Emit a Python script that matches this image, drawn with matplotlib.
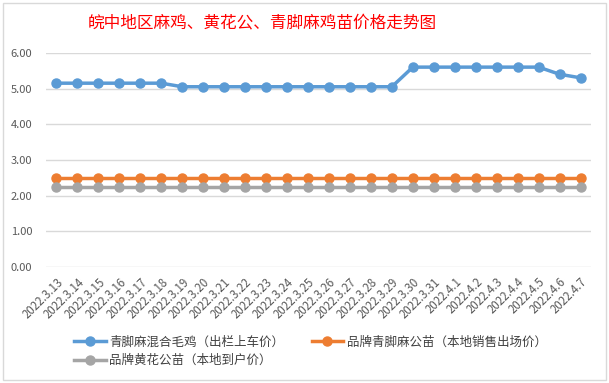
import matplotlib
matplotlib.use('Agg')
import matplotlib.pyplot as plt
from matplotlib.patches import Rectangle

plt.rcParams['font.family'] = ['Noto Sans CJK SC', 'DejaVu Sans']

dates = ['2022.3.13', '2022.3.14', '2022.3.15', '2022.3.16', '2022.3.17', '2022.3.18',
         '2022.3.19', '2022.3.20', '2022.3.21', '2022.3.22', '2022.3.23', '2022.3.24',
         '2022.3.25', '2022.3.26', '2022.3.27', '2022.3.28', '2022.3.29', '2022.3.30',
         '2022.3.31', '2022.4.1', '2022.4.2', '2022.4.3', '2022.4.4', '2022.4.5',
         '2022.4.6', '2022.4.7']
mixed_chicken = [5.15, 5.15, 5.15, 5.15, 5.15, 5.15,
                 5.05, 5.05, 5.05, 5.05, 5.05, 5.05, 5.05, 5.05, 5.05, 5.05, 5.05,
                 5.6, 5.6, 5.6, 5.6, 5.6, 5.6, 5.6, 5.4, 5.3]
qingjiao_male = [2.5] * 26
huanghua_male = [2.25] * 26

series_names = ['青脚麻混合毛鸡（出栏上车价）', '品牌青脚麻公苗（本地销售出场价）', '品牌黄花公苗（本地到户价）']
colors = ['#5B9BD5', '#ED7D31', '#A5A5A5']

fig = plt.figure(figsize=(6.09, 3.83), dpi=100)
fig.patches.append(Rectangle((0.005, 0.008), 0.99, 0.985, transform=fig.transFigure,
                             fill=False, edgecolor='#D9D9D9', lw=1, zorder=-1))
ax = fig.add_axes([0.0755, 0.303, 0.895, 0.559])
ax.patch.set_alpha(0)

x = list(range(len(dates)))
lines = []
for vals, name, c in zip([mixed_chicken, qingjiao_male, huanghua_male], series_names, colors):
    ln, = ax.plot(x, vals, color=c, lw=2.5, marker='o', markersize=6.5, label=name)
    lines.append(ln)

ax.set_xlim(-0.5, len(dates) - 0.5)
ax.set_ylim(0, 6)
ax.set_yticks([0, 1, 2, 3, 4, 5, 6])
ax.set_yticklabels([f'{v:.2f}' for v in range(7)])
ax.set_xticks(x)
ax.set_xticklabels(dates, rotation=45, ha='right', rotation_mode='anchor')
ax.tick_params(axis='both', length=0, colors='#595959', labelsize=8)
ax.tick_params(axis='x', pad=6, labelsize=8.3)
ax.tick_params(axis='y', pad=10)
ax.grid(axis='y', color='#D9D9D9', lw=1)
ax.set_axisbelow(True)
for s in ax.spines.values():
    s.set_visible(False)

fig.text(0.43, 0.94, '皖中地区麻鸡、黄花公、青脚麻鸡苗价格走势图', color='red',
         fontsize=12, fontweight='medium', ha='center', va='center')

fig.legend([lines[0], lines[2], lines[1]], [series_names[0], series_names[2], series_names[1]],
           ncol=2, loc='center', bbox_to_anchor=(0.51, 0.083), frameon=False,
           fontsize=9, labelcolor='#404040', handlelength=2.5, columnspacing=2.2,
           labelspacing=0.45, handletextpad=0.3)

fig.savefig('out.png', dpi=100)
